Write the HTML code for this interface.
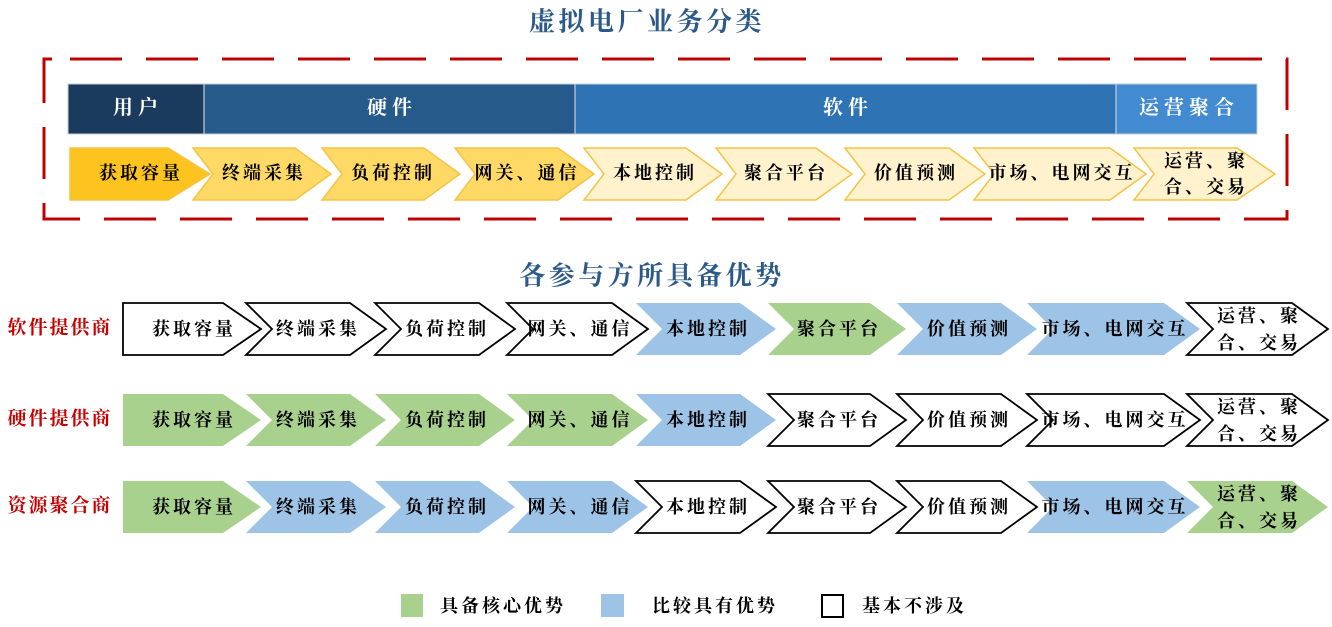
<!DOCTYPE html>
<html>
<head>
<meta charset="utf-8">
<style>
  html,body{margin:0;padding:0;background:#fff;}
  svg{display:block;}
  text{font-family:"Liberation Serif","Noto Serif CJK SC",serif;font-weight:700;dominant-baseline:central;text-anchor:middle;}
  .t{font-size:18px;letter-spacing:3px;fill:#000;}
  .h{font-size:20px;letter-spacing:5px;fill:#fff;}
  .ttl{font-size:26px;letter-spacing:3.5px;fill:#2b5a8a;}
  .lbl{font-size:19px;letter-spacing:2px;fill:#c80000;}
  .lg{font-size:18px;letter-spacing:3px;fill:#000;text-anchor:start;}
  .g{fill:#a9d18e;}
  .b{fill:#9dc3e6;}
  .w{fill:#fff;stroke:#000;stroke-width:1.8;stroke-linejoin:miter;}
</style>
</head>
<body>
<svg width="1332" height="627" viewBox="0 0 1332 627" xmlns="http://www.w3.org/2000/svg">
  <rect x="0" y="0" width="1332" height="627" fill="#fff"/>

  <!-- Title 1 -->
  <text class="ttl" x="647" y="22">虚拟电厂业务分类</text>

  <!-- Dashed red box -->
  <path d="M70,59 H1287 V219 H44 V59 H70" fill="none" stroke="#c00000" stroke-width="3" stroke-dasharray="52 24"/>

  <!-- Header bar -->
  <rect x="68" y="84" width="136" height="50" fill="#1b3b5e"/>
  <rect x="204" y="84" width="371" height="50" fill="#255a8b"/>
  <rect x="575" y="84" width="541" height="50" fill="#2e73b4"/>
  <rect x="1116" y="84" width="141" height="50" fill="#428bd0"/>
  <rect x="68" y="84" width="1189" height="50" fill="none" stroke="#c9ced6" stroke-width="1"/>
  <line x1="204" y1="84" x2="204" y2="134" stroke="#c9ced6" stroke-width="1.2"/>
  <line x1="575" y1="84" x2="575" y2="134" stroke="#c9ced6" stroke-width="1.2"/>
  <line x1="1116" y1="84" x2="1116" y2="134" stroke="#c9ced6" stroke-width="1.2"/>
  <text class="h" x="138" y="108">用户</text>
  <text class="h" x="392" y="108">硬件</text>
  <text class="h" x="848" y="108">软件</text>
  <text class="h" x="1189" y="108">运营聚合</text>

  <!-- Top chevron row -->
  <g transform="translate(0,148)" stroke="#f6c244" stroke-width="1.5" stroke-linejoin="miter">
    <polygon fill="#fdc41f" points="70,0 168,0 210,26 168,52 70,52"/>
    <polygon fill="#ffd966" points="193,0 295,0 331,26 295,52 193,52 213,26"/>
    <polygon fill="#ffd966" points="322,0 424,0 460,26 424,52 322,52 342,26"/>
    <polygon fill="#ffd966" points="455,0 558,0 594,26 558,52 455,52 475,26"/>
    <polygon fill="#fff2cc" points="584,0 686,0 722,26 686,52 584,52 604,26"/>
    <polygon fill="#fff2cc" points="716,0 816,0 852,26 816,52 716,52 736,26"/>
    <polygon fill="#fff2cc" points="845,0 949,0 985,26 949,52 845,52 865,26"/>
    <polygon fill="#fff2cc" points="974,0 1110,0 1146,26 1110,52 974,52 994,26"/>
    <polygon fill="#fff2cc" points="1134,0 1237,0 1275,26 1237,52 1134,52 1154,26"/>
  </g>
  <g>
    <text class="t" x="141" y="173">获取容量</text>
    <text class="t" x="264" y="173">终端采集</text>
    <text class="t" x="393" y="173">负荷控制</text>
    <text class="t" x="527" y="173">网关、通信</text>
    <text class="t" x="655" y="173">本地控制</text>
    <text class="t" x="786" y="173">聚合平台</text>
    <text class="t" x="916" y="173">价值预测</text>
    <text class="t" x="1062" y="173">市场、电网交互</text>
    <text class="t" x="1206" y="161">运营、聚</text>
    <text class="t" x="1206" y="187">合、交易</text>
  </g>

  <!-- Title 2 -->
  <text class="ttl" x="652" y="276">各参与方所具备优势</text>

  <!-- Row labels -->
  <text class="lbl" x="60" y="328">软件提供商</text>
  <text class="lbl" x="60" y="419">硬件提供商</text>
  <text class="lbl" x="60" y="506">资源聚合商</text>

  <!-- Row 1: 软件提供商 -->
  <g transform="translate(0,303)">
    <polygon class="w" points="123,0 223,0 261,26 223,52 123,52"/>
    <polygon class="w" points="246,0 350,0 386,26 350,52 246,52 272,26"/>
    <polygon class="w" points="375,0 479,0 515,26 479,52 375,52 401,26"/>
    <polygon class="w" points="507,0 612,0 648,26 612,52 507,52 533,26"/>
    <polygon class="b" points="636,0 740,0 776,26 740,52 636,52 662,26"/>
    <polygon class="g" points="768,0 870,0 906,26 870,52 768,52 794,26"/>
    <polygon class="b" points="897,0 1001,0 1037,26 1001,52 897,52 923,26"/>
    <polygon class="b" points="1027,0 1164,0 1200,26 1164,52 1027,52 1053,26"/>
    <polygon class="w" points="1187,0 1292,0 1328,26 1292,52 1187,52 1213,26"/>
    <text class="t" x="194" y="26">获取容量</text>
    <text class="t" x="318" y="26">终端采集</text>
    <text class="t" x="447" y="26">负荷控制</text>
    <text class="t" x="580" y="26">网关、通信</text>
    <text class="t" x="708" y="26">本地控制</text>
    <text class="t" x="839" y="26">聚合平台</text>
    <text class="t" x="969" y="26">价值预测</text>
    <text class="t" x="1115" y="26">市场、电网交互</text>
    <text class="t" x="1259" y="13">运营、聚</text>
    <text class="t" x="1259" y="40">合、交易</text>
  </g>

  <!-- Row 2: 硬件提供商 -->
  <g transform="translate(0,394)">
    <polygon class="g" points="123,0 223,0 261,26 223,52 123,52"/>
    <polygon class="g" points="246,0 350,0 386,26 350,52 246,52 272,26"/>
    <polygon class="g" points="375,0 479,0 515,26 479,52 375,52 401,26"/>
    <polygon class="g" points="507,0 612,0 648,26 612,52 507,52 533,26"/>
    <polygon class="b" points="636,0 740,0 776,26 740,52 636,52 662,26"/>
    <polygon class="w" points="768,0 870,0 906,26 870,52 768,52 794,26"/>
    <polygon class="w" points="897,0 1001,0 1037,26 1001,52 897,52 923,26"/>
    <polygon class="w" points="1027,0 1164,0 1200,26 1164,52 1027,52 1053,26"/>
    <polygon class="w" points="1187,0 1292,0 1328,26 1292,52 1187,52 1213,26"/>
    <text class="t" x="194" y="26">获取容量</text>
    <text class="t" x="318" y="26">终端采集</text>
    <text class="t" x="447" y="26">负荷控制</text>
    <text class="t" x="580" y="26">网关、通信</text>
    <text class="t" x="708" y="26">本地控制</text>
    <text class="t" x="839" y="26">聚合平台</text>
    <text class="t" x="969" y="26">价值预测</text>
    <text class="t" x="1115" y="26">市场、电网交互</text>
    <text class="t" x="1259" y="13">运营、聚</text>
    <text class="t" x="1259" y="40">合、交易</text>
  </g>

  <!-- Row 3: 资源聚合商 -->
  <g transform="translate(0,481)">
    <polygon class="g" points="123,0 223,0 261,26 223,52 123,52"/>
    <polygon class="b" points="246,0 350,0 386,26 350,52 246,52 272,26"/>
    <polygon class="b" points="375,0 479,0 515,26 479,52 375,52 401,26"/>
    <polygon class="b" points="507,0 612,0 648,26 612,52 507,52 533,26"/>
    <polygon class="w" points="636,0 740,0 776,26 740,52 636,52 662,26"/>
    <polygon class="w" points="768,0 870,0 906,26 870,52 768,52 794,26"/>
    <polygon class="w" points="897,0 1001,0 1037,26 1001,52 897,52 923,26"/>
    <polygon class="b" points="1027,0 1164,0 1200,26 1164,52 1027,52 1053,26"/>
    <polygon class="g" points="1187,0 1292,0 1328,26 1292,52 1187,52 1213,26"/>
    <text class="t" x="194" y="26">获取容量</text>
    <text class="t" x="318" y="26">终端采集</text>
    <text class="t" x="447" y="26">负荷控制</text>
    <text class="t" x="580" y="26">网关、通信</text>
    <text class="t" x="708" y="26">本地控制</text>
    <text class="t" x="839" y="26">聚合平台</text>
    <text class="t" x="969" y="26">价值预测</text>
    <text class="t" x="1115" y="26">市场、电网交互</text>
    <text class="t" x="1259" y="13">运营、聚</text>
    <text class="t" x="1259" y="40">合、交易</text>
  </g>

  <!-- Legend -->
  <rect x="401" y="594" width="22" height="23" fill="#a9d18e"/>
  <text class="lg" x="440" y="606">具备核心优势</text>
  <rect x="601" y="594" width="23" height="23" fill="#9dc3e6"/>
  <text class="lg" x="652" y="606">比较具有优势</text>
  <rect x="822" y="595" width="21" height="22" fill="#fff" stroke="#000" stroke-width="2"/>
  <text class="lg" x="862" y="606">基本不涉及</text>
</svg>
</body>
</html>
